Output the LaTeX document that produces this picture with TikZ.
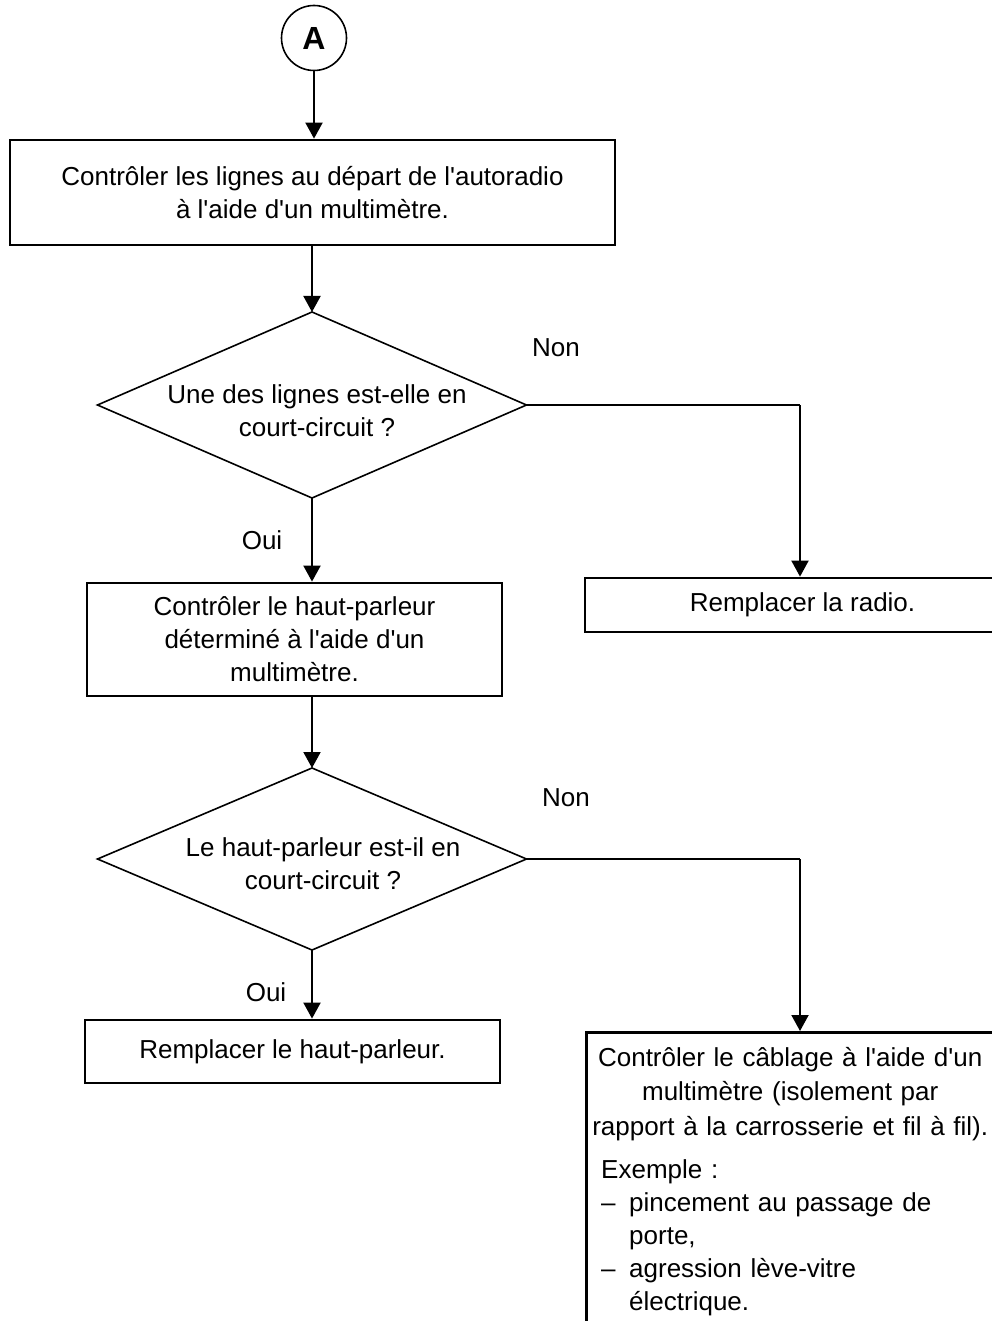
\documentclass[tikz,border=0pt]{standalone}
\usepackage{fontspec}
\newfontfamily\arialfont{Liberation Sans}
\usetikzlibrary{arrows.meta,shapes.geometric,positioning}

\begin{document}
\begin{tikzpicture}[x=1pt, y=-1pt,
    box/.style={rectangle, draw, line width=2.8pt, inner sep=0pt},
    decision/.style={diamond, draw, line width=1.6pt, inner sep=0pt, outer sep=0pt, minimum width=429pt, minimum height=186pt},
    txt/.style={font=\arialfont\fontsize{26}{33}\selectfont},
    arrow/.style={-{Triangle[length=16pt,width=17pt]}, line width=2pt},
    conn/.style={line width=2pt}
]
\useasboundingbox (0,0) rectangle (992,1321);
\clip (0,0) rectangle (992,1321);

% Start
\node[circle, draw, line width=1.6pt, minimum size=65pt, inner sep=0pt, font=\arialfont\fontsize{32}{32}\selectfont\bfseries] (start) at (314,38) {A};

% Check lines
\node[box, txt, align=center, minimum width=605pt, minimum height=105pt] (lines) at (312.5,192.5) {Contrôler les lignes au départ de l'autoradio\\à l'aide d'un multimètre.};
\draw[arrow] (start) -- (start |- lines.north);

% First question
\node[decision] (shortline) at (312,405) {};
\node[txt, align=center] (shortlinetext) at (317,411) {Une des lignes est-elle en\\court-circuit ?};
\draw[arrow] (lines.south -| shortline.north) -- (shortline.north);

\node[box, txt, minimum width=435pt, minimum height=54pt] (radio) at (802.5,605) {Remplacer la radio.};
\node[txt] (non1) at (556,348) {Non};
\draw[conn] (shortline.east) -- (800,405) coordinate (bend1);
\draw[arrow] (bend1) -- (bend1 |- radio.north);

% Check speaker
\node[txt] (oui1) at (262,540) {Oui};
\node[box, txt, align=center, minimum width=415pt, minimum height=113pt] (speaker) at (294.5,639.5) {Contrôler le haut-parleur\\déterminé à l'aide d'un\\multimètre.};
\draw[arrow] (shortline.south) -- (shortline.south |- speaker.north);

% Second question
\node[decision, minimum height=182pt] (shortspeaker) at (312,859) {};
\node[txt, align=center] (shortspeakertext) at (323,864) {Le haut-parleur est-il en\\court-circuit ?};
\draw[arrow] (speaker.south -| shortspeaker.north) -- (shortspeaker.north);

\node[txt] (oui2) at (266,992) {Oui};
\node[box, txt, minimum width=415pt, minimum height=63pt] (replace) at (292.5,1051.5) {Remplacer le haut-parleur.};
\draw[arrow] (shortspeaker.south) -- (shortspeaker.south |- replace.north);

% Wiring
\node[txt] (non2) at (566,798) {Non};
\node[box, anchor=north west, minimum width=435pt, minimum height=330pt] (wiring) at (585,1031) {};
\node[txt, anchor=north west, text width=400pt, inner sep=0pt] (wiringtext) at (590,1047) {%
{\centering\baselineskip=34.5pt Contrôler le câblage à l'aide d'un\\
multimètre (isolement par\\
\mbox{rapport à la carrosserie et fil à fil).}\par}
\vspace{10pt}
{\leftskip=11pt Exemple :\\
\makebox[28pt][l]{–}pincement au passage de\\
\hspace*{28pt}porte,\\
\makebox[28pt][l]{–}agression lève-vitre\\
\hspace*{28pt}électrique.\par}};
\draw[conn] (shortspeaker.east) -- (800,859) coordinate (bend2);
\draw[arrow] (bend2) -- (bend2 |- wiring.north);

\end{tikzpicture}
\end{document}
